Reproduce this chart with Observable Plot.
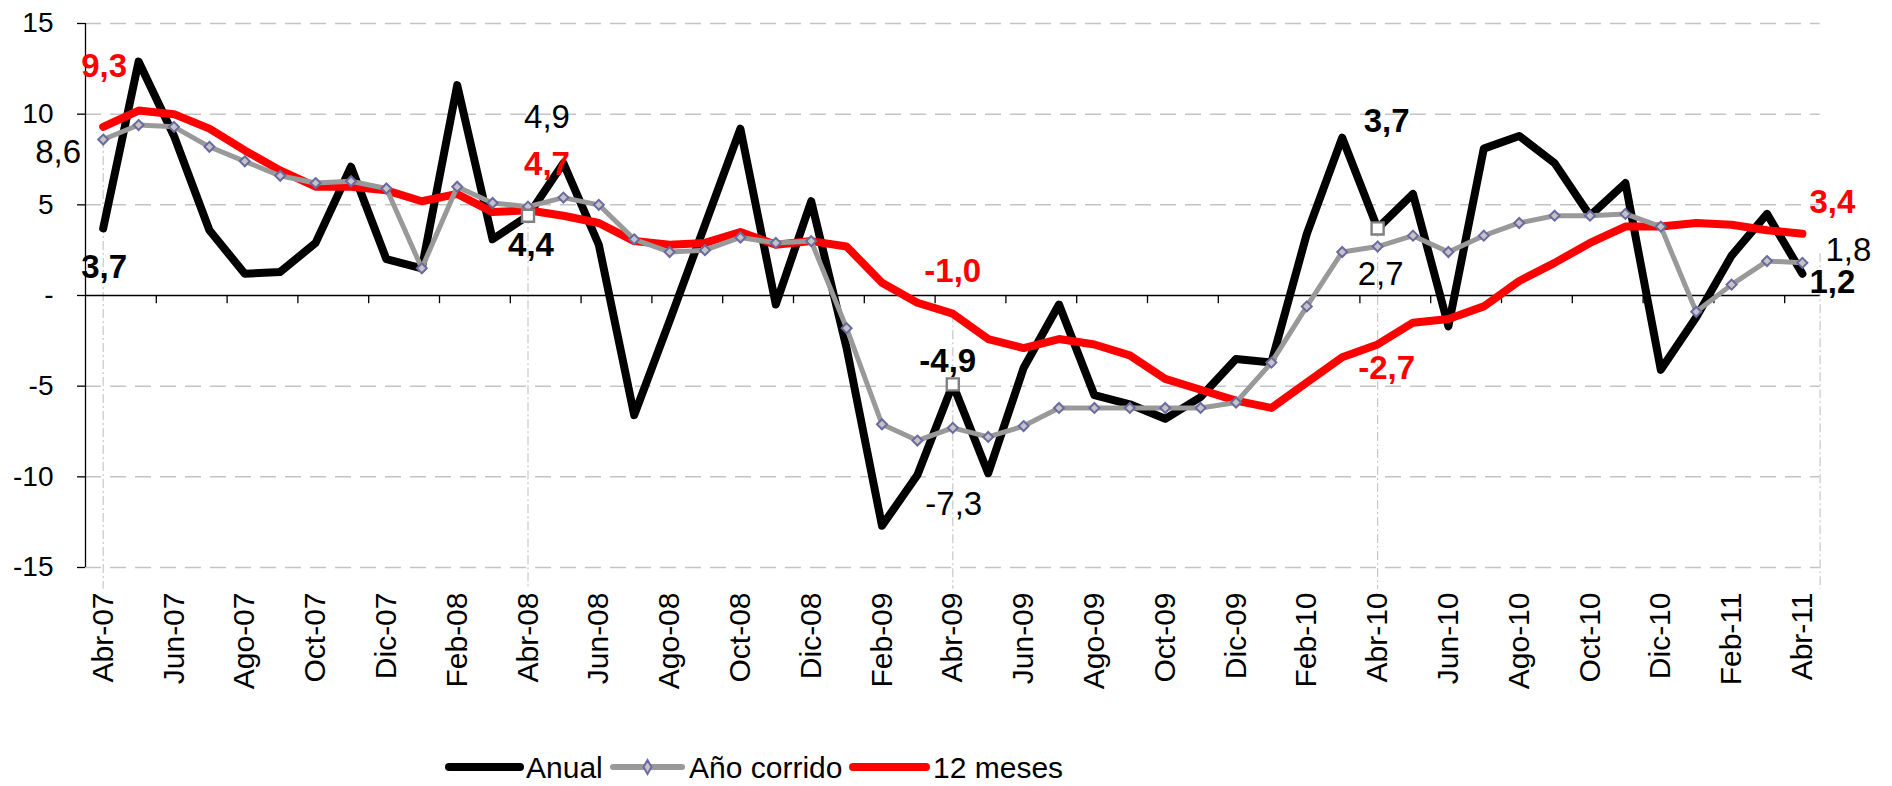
<!DOCTYPE html>
<html>
<head>
<meta charset="utf-8">
<script src="https://cdn.jsdelivr.net/npm/d3@7"></script>
<script src="https://cdn.jsdelivr.net/npm/@observablehq/plot@0.6"></script>
<style>
  html, body { margin: 0; padding: 0; background: #fff; }
  body { width: 1892px; height: 786px; overflow: hidden; font-family: "Liberation Sans", Arial, sans-serif; }
  #chart svg, #legend svg { display: block; }
</style>
</head>
<body>
<div id="chart"></div>
<div id="legend"></div>
<script>
// ---------- DATA ----------
const months = [
  "Abr-07","May-07","Jun-07","Jul-07","Ago-07","Sep-07","Oct-07","Nov-07","Dic-07","Ene-08","Feb-08","Mar-08",
  "Abr-08","May-08","Jun-08","Jul-08","Ago-08","Sep-08","Oct-08","Nov-08","Dic-08","Ene-09","Feb-09","Mar-09",
  "Abr-09","May-09","Jun-09","Jul-09","Ago-09","Sep-09","Oct-09","Nov-09","Dic-09","Ene-10","Feb-10","Mar-10",
  "Abr-10","May-10","Jun-10","Jul-10","Ago-10","Sep-10","Oct-10","Nov-10","Dic-10","Ene-11","Feb-11","Mar-11",
  "Abr-11"
];
const anual = [
  3.7, 12.9, 8.8, 3.6, 1.2, 1.3, 2.9, 7.1, 2.0, 1.5, 11.6, 3.1,
  4.4, 7.3, 2.8, -6.6, -1.4, 3.9, 9.2, -0.5, 5.2, -2.9, -12.7, -9.9,
  -4.9, -9.8, -4.0, -0.5, -5.5, -6.0, -6.8, -5.6, -3.5, -3.7, 3.4, 8.7,
  3.7, 5.6, -1.7, 8.1, 8.8, 7.3, 4.4, 6.2, -4.1, -1.2, 2.2, 4.5,
  1.2
];
const anioCorrido = [
  8.6, 9.4, 9.3, 8.2, 7.4, 6.6, 6.2, 6.3, 5.9, 1.5, 6.0, 5.1,
  4.9, 5.4, 5.0, 3.1, 2.4, 2.5, 3.2, 2.9, 3.0, -1.8, -7.1, -8.0,
  -7.3, -7.8, -7.2, -6.2, -6.2, -6.2, -6.2, -6.2, -5.9, -3.7, -0.6, 2.4,
  2.7, 3.3, 2.4, 3.3, 4.0, 4.4, 4.4, 4.5, 3.8, -0.9, 0.6, 1.9,
  1.8
];
const doceMeses = [
  9.3, 10.2, 10.0, 9.2, 8.0, 6.9, 6.0, 6.0, 5.8, 5.2, 5.6, 4.6,
  4.7, 4.4, 4.0, 3.0, 2.8, 2.9, 3.5, 2.8, 3.0, 2.7, 0.7, -0.4,
  -1.0, -2.4, -2.9, -2.4, -2.7, -3.3, -4.6, -5.2, -5.8, -6.2, -4.8, -3.4,
  -2.7, -1.5, -1.3, -0.6, 0.8, 1.8, 2.9, 3.8, 3.8, 4.0, 3.9, 3.6,
  3.4
];
const seriesNames = ["Anual", "Año corrido", "12 meses"];
const yTicks = [-15, -10, -5, 0, 5, 10, 15];
const highlightIdx = [12, 24, 36];          // months with white square marker on Anual
const labeledIdx = [0, 12, 24, 36, 48];     // months with value labels

// ---------- STYLE / LAYOUT ----------
const FONT = '"Liberation Sans", Arial, sans-serif';
const colors = {"Anual": "#000000", "Año corrido": "#999999", "12 meses": "#ff0000"};
const seriesOf = {"Anual": anual, "Año corrido": anioCorrido, "12 meses": doceMeses};
// label offsets in px per labeled month: [dx, dy] for Anual, Año corrido, 12 meses
const labelOffsets = {
  0:  {"Anual": [1, 39],  "Año corrido": [-45, 13], "12 meses": [1, -60]},
  12: {"Anual": [3, 30],  "Año corrido": [19, -89], "12 meses": [19, -46]},
  24: {"Anual": [-5, -23],"Año corrido": [1, 77],   "12 meses": [0, -42]},
  36: {"Anual": [9, -107],"Año corrido": [3, 28],   "12 meses": [9, 24]},
  48: {"Anual": [30, 9],  "Año corrido": [46, -12], "12 meses": [30, -31]}
};

const rows = months.map((m, i) => ({i, m, anual: anual[i], corrido: anioCorrido[i], doce: doceMeses[i]}));
const squareRows = highlightIdx.map(i => ({i, v: anual[i]}));
const fmt = v => v.toFixed(1).replace(".", ",");
const xTickIdx = months.map((m, i) => i).filter(i => i % 2 === 0);
const catTicks = d3.range(1.5, months.length - 1, 2);
const dropRows = [
  {i: 0, top: anioCorrido[0]},
  {i: 12, top: anual[12]},
  {i: 24, top: doceMeses[24]},
  {i: 36, top: anual[36]},
  {i: 48.5, top: 2.3}
];

const labelMarks = [];
for (const i of labeledIdx) {
  for (const s of seriesNames) {
    const [dx, dy] = labelOffsets[i][s];
    const v = seriesOf[s][i];
    labelMarks.push(Plot.text([{i, v, t: fmt(v)}], {
      x: "i", y: "v", text: "t", dx, dy,
      fill: s === "12 meses" ? "#ff0000" : "#000000",
      fontWeight: s === "Año corrido" ? "normal" : "bold",
      fontSize: 33, fontFamily: FONT, textAnchor: "middle"
    }));
  }
}

const chart = Plot.plot({
  width: 1892, height: 745,
  marginLeft: 85, marginRight: 72.4, marginTop: 23, marginBottom: 178,
  x: {type: "linear", domain: [-0.5, months.length - 0.5]},
  y: {domain: [-15, 15]},
  style: {fontFamily: FONT, fontSize: "28px", color: "#000", background: "#fff", overflow: "visible"},
  marks: [
    Plot.ruleY(yTicks.filter(d => d !== 0), {stroke: "#c4c4c4", strokeWidth: 1.5, strokeDasharray: "16,9"}),
    Plot.ruleX(dropRows, {x: "i", y1: "top", y2: -16.2, stroke: "#c8c8c8", strokeWidth: 1.2, strokeDasharray: "9,3,2,3"}),
    Plot.ruleY([0], {stroke: "#000", strokeWidth: 1.3}),
    Plot.ruleX(catTicks, {x: d => d, y1: 0, y2: -0.45, stroke: "#000", strokeWidth: 1.3}),
    Plot.ruleX([-0.5], {y1: -15, y2: 15, stroke: "#000", strokeWidth: 1.3}),
    Plot.axisY(yTicks, {tickFormat: d => d === 0 ? "-" : String(d), tickSize: 8, tickPadding: 24, fontSize: 28, label: null, strokeWidth: 1.3}),
    Plot.axisX(xTickIdx, {tickFormat: i => months[i], tickRotate: -90, tickSize: 0, tickPadding: 25, fontSize: 30,
      textAnchor: "end", lineAnchor: "middle", label: null}),
    Plot.line(rows, {x: "i", y: "anual", stroke: colors["Anual"], strokeWidth: 8, strokeLinejoin: "round", strokeLinecap: "round"}),
    Plot.line(rows, {x: "i", y: "doce", stroke: colors["12 meses"], strokeWidth: 8, strokeLinejoin: "round", strokeLinecap: "round"}),
    Plot.line(rows, {x: "i", y: "corrido", stroke: colors["Año corrido"], strokeWidth: 5, strokeLinejoin: "round"}),
    Plot.dot(rows, {x: "i", y: "corrido", symbol: "diamond2", r: 4.5, fill: "#c4c4c4", stroke: "#6a6aa0", strokeWidth: 2}),
    Plot.dot(squareRows, {x: "i", y: "v", symbol: "square", r: 6.8, fill: "#fff", stroke: "#808080", strokeWidth: 2.4}),
    ...labelMarks
  ]
});
document.getElementById("chart").appendChild(chart);

// ---------- LEGEND (below the SVG) ----------
const legendItems = [
  {name: "Anual", x1: 449, x2: 520, w: 8, tx: 526},
  {name: "Año corrido", x1: 613, x2: 682, w: 6, tx: 689, diamond: true},
  {name: "12 meses", x1: 853, x2: 926, w: 8, tx: 933}
];
const leg = d3.create("svg").attr("width", 1892).attr("height", 41);
const cy = 22;
for (const it of legendItems) {
  leg.append("line").attr("x1", it.x1).attr("x2", it.x2).attr("y1", cy).attr("y2", cy)
    .attr("stroke", colors[it.name]).attr("stroke-width", it.w).attr("stroke-linecap", "round");
  if (it.diamond) {
    const cx = (it.x1 + it.x2) / 2;
    leg.append("path").attr("d", `M${cx},${cy - 7}L${cx + 4},${cy}L${cx},${cy + 7}L${cx - 4},${cy}Z`)
      .attr("fill", "#c4c4c4").attr("stroke", "#6a6aa0").attr("stroke-width", 2);
  }
  leg.append("text").attr("x", it.tx).attr("y", cy).attr("dy", "0.35em")
    .attr("font-family", FONT).attr("font-size", 30).attr("fill", "#000").text(it.name);
}
document.getElementById("legend").appendChild(leg.node());
</script>
</body>
</html>
